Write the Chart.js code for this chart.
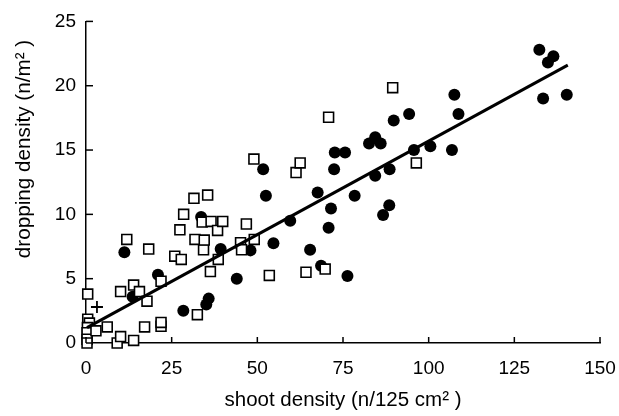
<!DOCTYPE html>
<html>
<head>
<meta charset="utf-8">
<script src="https://cdn.jsdelivr.net/npm/chart.js@4/dist/chart.umd.min.js"></script>
<style>
    html, body { margin:0; padding:0; background:#fff; }
    #contenedor { width:619px; height:416px; }
</style>
</head>
<body>
<div id="contenedor"><canvas id="g_densidad"></canvas></div>
<script>
// circulos rellenos
let circulos_x = [11.2,13.6,21,28.4,33.6,35.1,35.8,39.3,44,48,51.7,52.5,54.7,59.6,65.4,67.6,68.6,70.8,71.5,72.4,72.6,75.6,76.3,78.4,82.6,84.4,84.4,86,86.7,88.5,88.6,89.8,94.3,95.7,100.5,106.8,107.5,108.7,132.3,133.4,134.8,136.4,140.3];
let circulos_y = [7.05,3.6,5.3,2.5,9.8,3.0,3.45,7.3,5.0,7.2,13.5,11.45,7.75,9.5,7.25,11.7,6.0,8.95,10.45,13.5,14.8,14.8,5.2,11.45,15.5,16.0,13.0,15.5,9.95,10.7,13.5,17.3,17.8,15.0,15.3,15.0,19.3,17.8,22.8,19.0,21.8,22.3,19.3];

// cuadrados abiertos
let cuadrados_x = [0.5,0.5,1.0,0.4,0.3,0.3,0.3,2.9,6.2,9.1,10.1,10.1,11.9,13.9,13.9,15.6,17.1,17.8,18.3,21.9,21.9,21.9,25.9,27.4,27.8,28.5,31.5,31.8,32.5,34.3,34.5,33.9,35.5,36.3,36.5,38.4,38.6,39.9,45.1,45.4,46.8,49.0,49.1,53.5,61.3,62.5,64.2,69.8,70.8,89.5,96.4];
let cuadrados_y = [3.8,1.85,1.55,1.2,0.8,0.3,0.0,0.95,1.25,0.0,0.5,4.0,8.05,0.2,4.5,4.0,1.25,3.25,7.3,1.3,1.6,4.8,6.75,8.8,6.5,10.0,11.25,8.05,2.2,7.25,8.0,9.4,11.5,5.55,9.45,8.75,6.5,9.45,7.8,7.25,9.25,14.3,8.05,5.25,13.25,14.0,5.5,5.75,17.55,19.85,14.0];

// cruz
let cruz_x = [3.2];
let cruz_y = [2.8];

// recta de regresion (extremos)
let recta_x = [0.3,140.6];
let recta_y = [1.2,21.6];

let ticks_x = [0,25,50,75,100,125,150];
let ticks_y = [0,5,10,15,20,25];

let titulo_x = "shoot density (n/125 cm\u00b2 )";
let titulo_y = "dropping density (n/m\u00b2 )";

Chart.defaults.font.family = "'Liberation Sans', Arial, sans-serif";
Chart.defaults.color = "#000";

function pares(xs, ys){
    let r = [];
    for(let i = 0; i < xs.length; i++){
        r.push({x: xs[i], y: ys[i]});
    }
    return r;
}

// marcas de eje hacia adentro + titulo vertical
const extras = {
    id: 'extras',
    afterDraw(chart){
        let ctx = chart.ctx;
        let sx = chart.scales.x;
        let sy = chart.scales.y;
        ctx.save();
        ctx.strokeStyle = '#000';
        ctx.lineWidth = 1.5;
        ticks_x.forEach(function(v){
            let px = sx.getPixelForValue(v);
            ctx.beginPath();
            ctx.moveTo(px, sx.top);
            ctx.lineTo(px, sx.top - 6);
            ctx.stroke();
        });
        ticks_y.forEach(function(v){
            let py = sy.getPixelForValue(v);
            ctx.beginPath();
            ctx.moveTo(sy.right, py);
            ctx.lineTo(sy.right + 7, py);
            ctx.stroke();
        });
        ctx.translate(24, 149);
        ctx.rotate(-Math.PI / 2);
        ctx.fillStyle = '#000';
        ctx.font = "20.7px 'Liberation Sans', Arial, sans-serif";
        ctx.textAlign = 'center';
        ctx.textBaseline = 'middle';
        ctx.fillText(titulo_y, 0, 0);
        ctx.restore();
    }
};

function render(){
    let ctx = document.getElementById('g_densidad').getContext('2d');
    let g = new Chart(ctx, {
        type: 'scatter',
        data: {
            datasets: [
                {
                    type: 'line',
                    data: pares(recta_x, recta_y),
                    borderColor: '#000',
                    borderWidth: 3,
                    pointRadius: 0,
                    fill: false,
                    clip: false
                },
                {
                    data: pares(cuadrados_x, cuadrados_y),
                    pointStyle: 'rect',
                    pointRadius: 7,
                    backgroundColor: '#fff',
                    borderColor: '#000',
                    borderWidth: 1.6,
                    clip: false
                },
                {
                    data: pares(cruz_x, cruz_y),
                    pointStyle: 'cross',
                    pointRadius: 6,
                    borderColor: '#000',
                    borderWidth: 1.8,
                    clip: false
                },
                {
                    data: pares(circulos_x, circulos_y),
                    pointStyle: 'circle',
                    pointRadius: 6,
                    backgroundColor: '#000',
                    borderColor: '#000',
                    borderWidth: 0,
                    clip: false
                }
            ]
        },
        options: {
            animation: false,
            responsive: true,
            maintainAspectRatio: false,
            events: [],
            plugins: {
                legend: { display: false },
                tooltip: { enabled: false }
            },
            layout: {
                padding: { top: 21, right: 19, left: 0, bottom: 0 }
            },
            scales: {
                x: {
                    type: 'linear',
                    min: 0,
                    max: 150,
                    afterBuildTicks: function(s){ s.ticks = ticks_x.map(v => ({value: v})); },
                    afterFit: function(s){
                        s.height = 73;
                        s.paddingLeft = 0;
                        s.paddingRight = 0;
                    },
                    grid: { display: false, drawTicks: false },
                    border: { display: true, color: '#000', width: 1.5 },
                    ticks: { font: { size: 19 }, padding: 14, maxRotation: 0 },
                    title: {
                        display: true,
                        text: titulo_x,
                        font: { size: 20.5 },
                        padding: { top: 0, bottom: 3 }
                    }
                },
                y: {
                    type: 'linear',
                    min: 0,
                    max: 25,
                    afterBuildTicks: function(s){ s.ticks = ticks_y.map(v => ({value: v})); },
                    afterFit: function(s){ s.width = 86; },
                    grid: { display: false, drawTicks: false },
                    border: { display: true, color: '#000', width: 1.5 },
                    ticks: { font: { size: 19 }, padding: 10 }
                }
            }
        },
        plugins: [extras]
    });
}

render();
</script>
</body>
</html>
